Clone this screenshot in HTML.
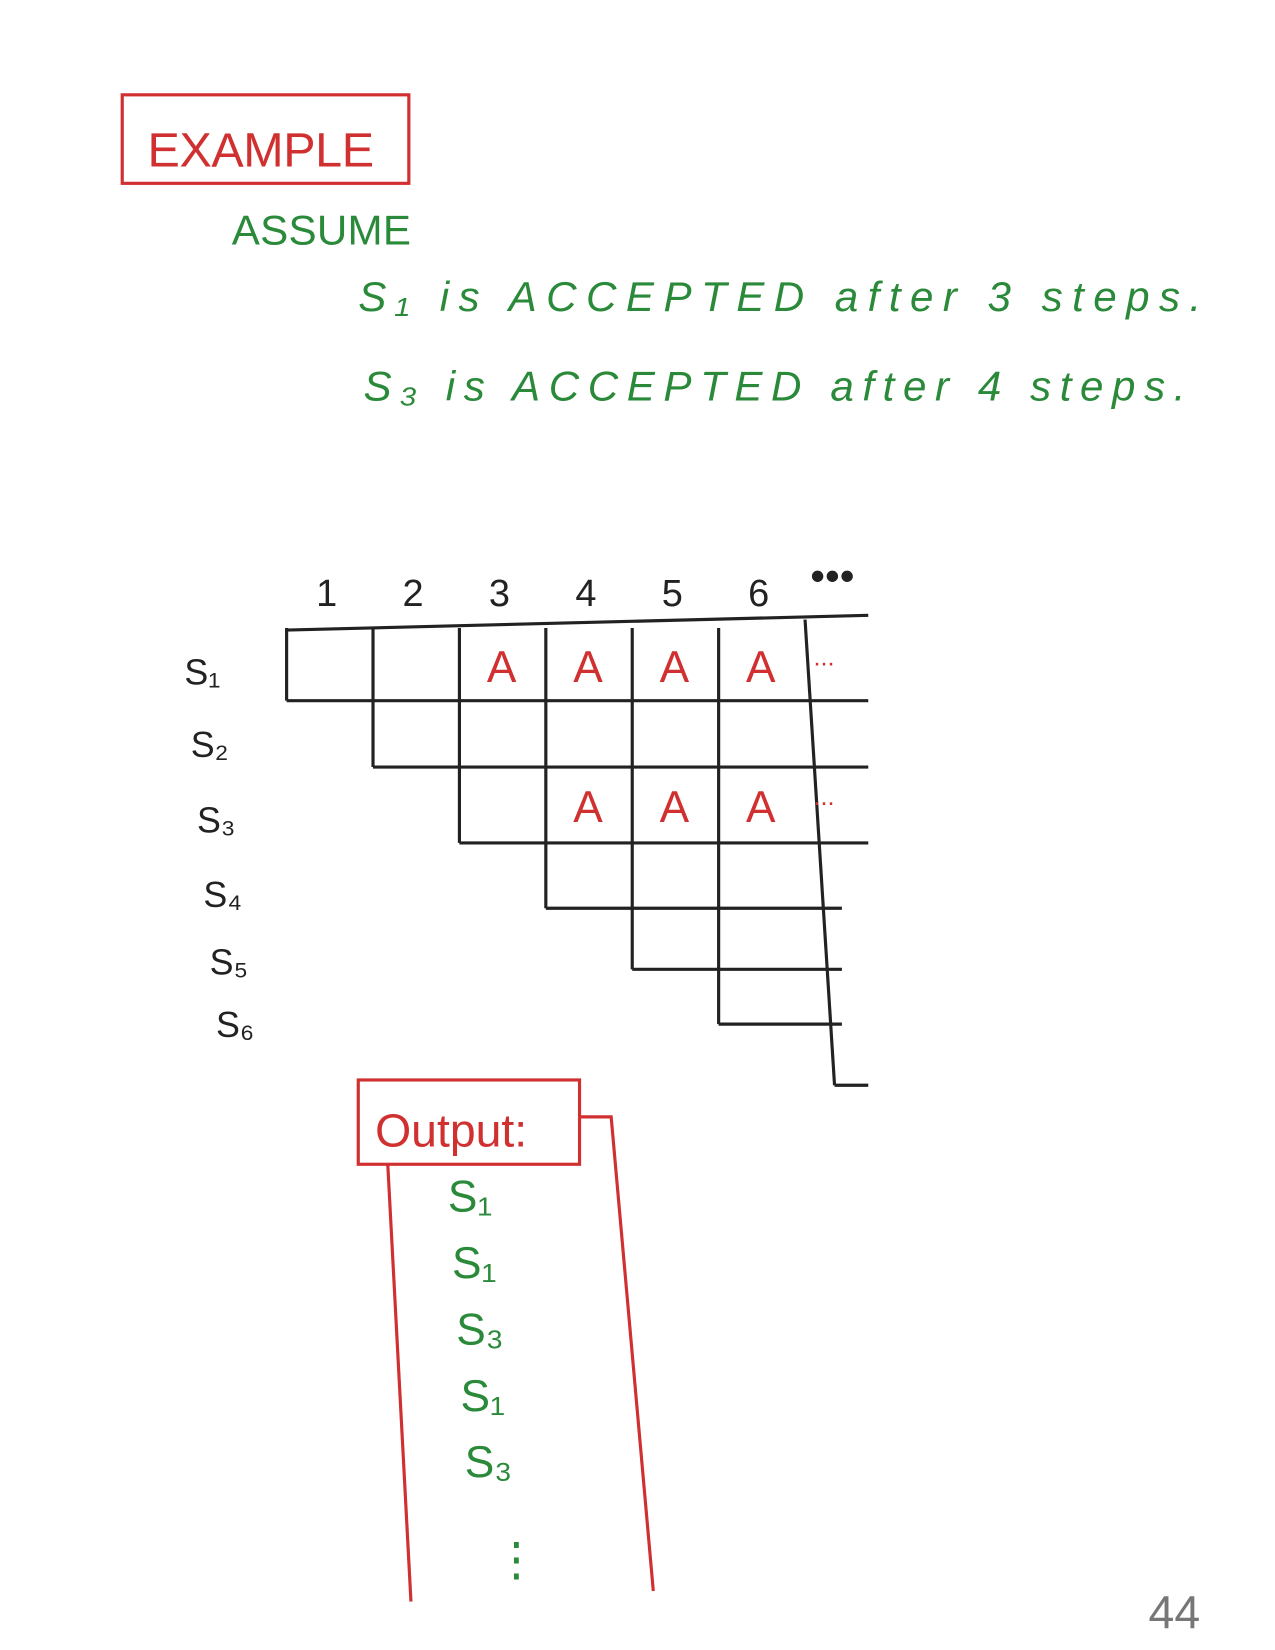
<!DOCTYPE html>
<html><head><meta charset="utf-8"><style>
html,body{margin:0;padding:0;background:#fff;}
svg{display:block;}
text{font-family:"Liberation Sans",sans-serif;}
</style></head><body>
<svg id="s" width="1275" height="1650" viewBox="0 0 1210 1566" preserveAspectRatio="none">
<rect x="116" y="90" width="272" height="84" fill="none" stroke="#d03030" stroke-width="3"/>
<text x="140" y="158" font-size="46" fill="#d03030" textLength="215">EXAMPLE</text>
<text x="220" y="232" font-size="40" fill="#2a8a3a" textLength="170">ASSUME</text>
<text x="340" y="295" font-size="40" fill="#2a8a3a" font-style="italic" textLength="800">S₁  is   ACCEPTED   after  3  steps.</text>
<text x="345" y="380" font-size="40" fill="#2a8a3a" font-style="italic" textLength="780">S₃  is   ACCEPTED   after   4  steps.</text>
<g id="grid"></g>
<rect x="340" y="1025" width="210" height="80" fill="none" stroke="#d03030" stroke-width="3"/>
<text x="356" y="1088" font-size="44" fill="#d03030">Output:</text>
<path d="M550 1060 L580 1060 L620 1510 M368 1105 L390 1520" fill="none" stroke="#d03030" stroke-width="3"/>
<g id="out"></g>
<text x="1090" y="1545" font-size="44" fill="#777">44</text>
</svg>
<script>
const stepLabels=["1","2","3","4","5","6"];
const rowLabels=["S₁","S₂","S₃","S₄","S₅","S₆"];
const acceptedCells=[[1,3],[1,4],[1,5],[1,6],[3,4],[3,5],[3,6]];
const outputList=["S₁","S₁","S₃","S₁","S₃"];
const NS="http://www.w3.org/2000/svg";
const g=document.getElementById('grid');
const colX=c=>272+(c-1)*82;
const rowBounds=[598,665,728,800,862,920,972,1030];
const rowY=r=>rowBounds[r-1];
function mk(tag,attrs,parent){const e=document.createElementNS(NS,tag);for(const k in attrs)e.setAttribute(k,attrs[k]);parent.appendChild(e);return e;}
const right=colX(7)+60;
stepLabels.forEach((s,i)=>{
 const t=mk('text',{x:colX(i+1)+28,y:575,'font-size':36,fill:'#222'},g);t.textContent=s;
 
 
});
const d=mk('text',{x:colX(7)+5,y:560,'font-size':40,fill:'#222'},g);d.textContent="•••";


mk('line',{x1:colX(1),y1:rowY(1),x2:right,y2:rowY(1)-14,stroke:'#222','stroke-width':3},g);
rowLabels.forEach((s,i)=>{
 const r=i+1;
 const t=mk('text',{x:175+i*6,y:(rowY(r)+rowY(r+1))/2+18+i*4,'font-size':34,fill:'#222'},g);t.textContent=s;
 
 
 const x=colX(r);
 mk('line',{x1:x,y1:rowY(1)-2,x2:x,y2:rowY(r+1),stroke:'#222','stroke-width':3},g);
 mk('line',{x1:x,y1:rowY(r+1),x2:right-(r>3?25:0),y2:rowY(r+1),stroke:'#222','stroke-width':3},g);
});
mk('line',{x1:colX(7),y1:rowY(1)-10,x2:colX(7)+28,y2:rowY(8),stroke:'#222','stroke-width':3},g);
mk('line',{x1:colX(7)+28,y1:rowY(8),x2:right,y2:rowY(8),stroke:'#222','stroke-width':3},g);
acceptedCells.forEach(([r,c])=>{
 const t=mk('text',{x:colX(c)+26,y:(rowY(r)+rowY(r+1))/2+16,'font-size':42,fill:'#d03030'},g);t.textContent="A";
 
 
});
[1,3].forEach(r=>{const t=mk('text',{x:colX(7)+8,y:(rowY(r)+rowY(r+1))/2,'font-size':24,fill:'#d03030'},g);t.textContent="...";
 
 });
const o=document.getElementById('out');
outputList.forEach((s,i)=>{
 const t=mk('text',{x:425+i*4,y:1150+i*63,'font-size':42,fill:'#2a8a3a'},o);t.textContent=s;
 
 
});
const v=mk('text',{x:468,y:1495,'font-size':44,fill:'#2a8a3a'},o);v.textContent="⋮";


</script>
</body></html>
